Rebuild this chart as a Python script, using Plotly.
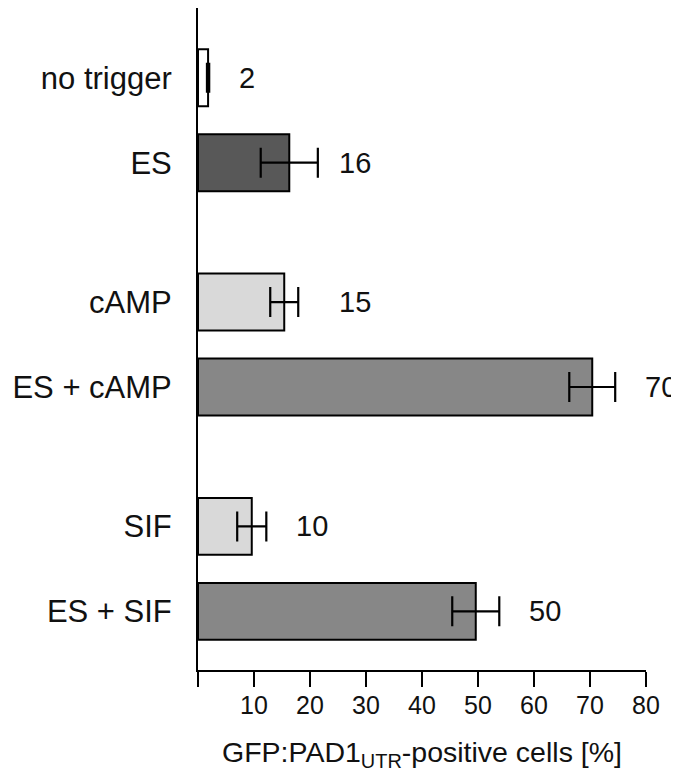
import plotly.graph_objects as go

# ---- data ----
categories = ["no trigger", "ES", "cAMP", "ES + cAMP", "SIF", "ES + SIF"]
values = [1.8, 16.3, 15.4, 70.4, 9.6, 49.6]
errors = [0.2, 5.1, 2.5, 4.1, 2.6, 4.2]
value_labels = ["2", "16", "15", "70", "10", "50"]
group_index = [0, 0, 1, 1, 2, 2]
member_index = [0, 1, 0, 1, 0, 1]
x_tick_vals = [0, 10, 20, 30, 40, 50, 60, 70, 80]
x_tick_text = ["", "10", "20", "30", "40", "50", "60", "70", "80"]

# ---- style ----
bar_colors = ["#ffffff", "#585858", "#d9d9d9", "#878787", "#d9d9d9", "#878787"]
group_gap = 2.64
label_shift_px = [28, 19, 39, 28, 28, 28]
FONT = "Liberation Sans, Arial, sans-serif"

ypos = [g * group_gap + m for g, m in zip(group_index, member_index)]

fig = go.Figure()
fig.add_trace(go.Bar(
    y=ypos, x=values, orientation="h", width=0.67,
    marker=dict(color=bar_colors, line=dict(color="black", width=2)),
    error_x=dict(type="data", array=errors, visible=True,
                 color="black", thickness=2.2, width=15),
    hoverinfo="skip",
))

for yp, v, e, t, s in zip(ypos, values, errors, value_labels, label_shift_px):
    fig.add_annotation(x=v + e, y=yp, text=t, showarrow=False,
                       xanchor="left", yanchor="middle", xshift=s,
                       font=dict(family=FONT, size=29, color="#111"))

# page body adds an 8px offset, so the figure is 8px smaller than the window
fig.update_layout(
    width=671, height=764,
    margin=dict(l=190, r=33, t=0, b=102),
    paper_bgcolor="white", plot_bgcolor="white",
    showlegend=False,
    font=dict(family=FONT, color="#111"),
    xaxis=dict(
        range=[0, 80], tickvals=x_tick_vals, ticktext=x_tick_text,
        ticks="outside", ticklen=15, tickwidth=2, tickcolor="black",
        showline=True, linecolor="black", linewidth=2,
        showgrid=False, zeroline=False, automargin=False,
        tickfont=dict(family=FONT, size=25, color="#111"),
        ticklabelstandoff=-3,
        title=dict(text="GFP:PAD1<sub>UTR</sub>-positive cells [%]",
                   font=dict(family=FONT, size=28.5, color="#111"), standoff=26),
    ),
    yaxis=dict(
        range=[6.97, -0.82], tickvals=ypos, ticktext=categories,
        ticks="", showline=True, linecolor="black", linewidth=2,
        showgrid=False, zeroline=False, automargin=False,
        tickfont=dict(family=FONT, size=31, color="#111"),
        ticklabelstandoff=18,
    ),
)

fig.write_html("out.html")
